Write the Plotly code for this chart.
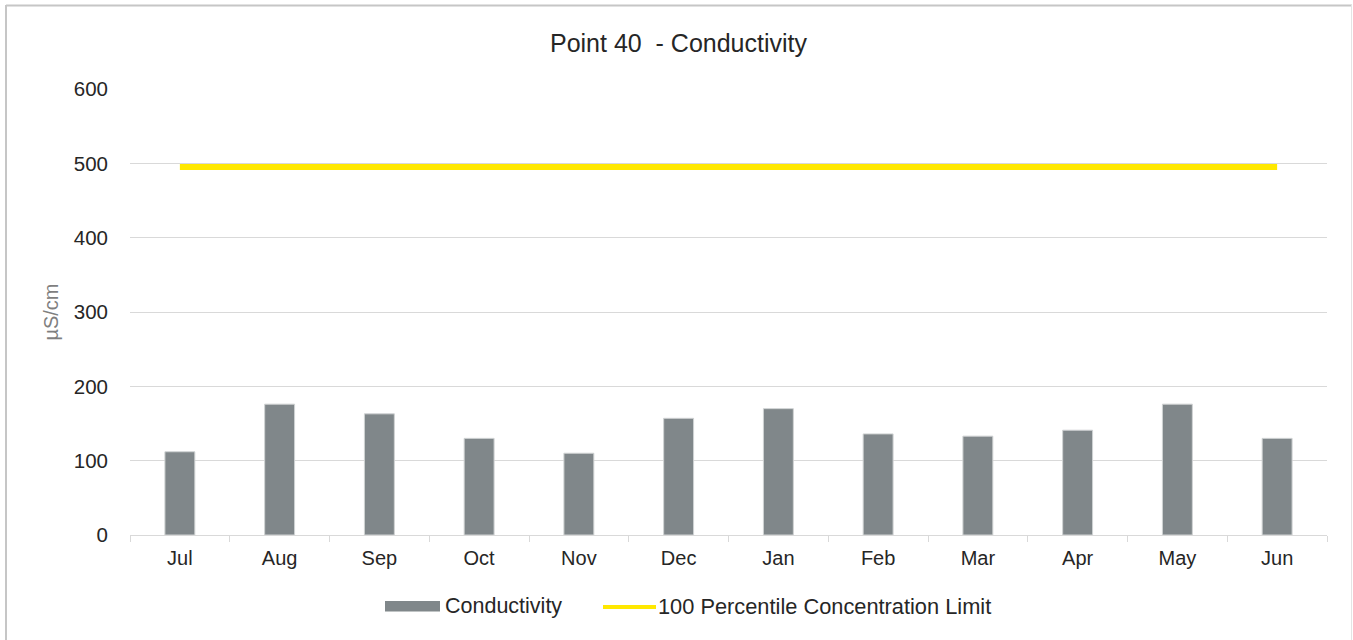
import plotly.graph_objects as go

# Monthly conductivity readings at Point 40 (µS/cm)
months = ["Jul", "Aug", "Sep", "Oct", "Nov", "Dec", "Jan", "Feb", "Mar", "Apr", "May", "Jun"]
conductivity = [112, 176, 163, 130, 110, 157, 170, 136, 133, 141, 176, 130]
limit_value = 495
limit = [limit_value] * len(months)

y_ticks = [0, 100, 200, 300, 400, 500, 600]

series_names = ["Conductivity", "100 Percentile Concentration Limit"]
bar_color = "#80878a"
limit_color = "#ffe800"

FONT = "Liberation Sans, Arial, sans-serif"
TEXT = "#262626"

W, H = 1353, 640
L, R, T, B = 130, 26, 89, 105
plot_w = W - L - R
plot_h = H - T - B


def px_x(p):
    return (p - L) / plot_w


def px_y(p):
    return (H - B - p) / plot_h


fig = go.Figure()

fig.add_trace(go.Bar(
    x=months,
    y=conductivity,
    name=series_names[0],
    marker=dict(color=bar_color, line=dict(color="#d0d3d4", width=1)),
    width=0.3,
    showlegend=False,
))

fig.add_trace(go.Scatter(
    x=months,
    y=limit,
    name=series_names[1],
    mode="lines",
    line=dict(color=limit_color, width=6),
    showlegend=False,
))

# Legend drawn below the axis: wide swatch for the bars, a line for the limit
legend_y = 606
fig.add_shape(type="rect", xref="paper", yref="paper",
              x0=px_x(385), x1=px_x(440), y0=px_y(601), y1=px_y(611.5),
              fillcolor=bar_color, line=dict(width=0))
fig.add_annotation(xref="paper", yref="paper", x=px_x(443), y=px_y(legend_y),
                   xanchor="left", yanchor="middle", showarrow=False,
                   text=series_names[0],
                   font=dict(family=FONT, size=21.5, color=TEXT))
fig.add_shape(type="line", xref="paper", yref="paper",
              x0=px_x(603), x1=px_x(656), y0=px_y(607), y1=px_y(607),
              line=dict(color=limit_color, width=4))
fig.add_annotation(xref="paper", yref="paper", x=px_x(656), y=px_y(legend_y),
                   xanchor="left", yanchor="middle", showarrow=False,
                   text=series_names[1],
                   font=dict(family=FONT, size=21.8, color=TEXT))

# Outer chart border
border = "#c6c6c6"
fig.add_shape(type="line", xref="paper", yref="paper",
              x0=px_x(6), x1=px_x(6), y0=px_y(5), y1=px_y(650),
              line=dict(color=border, width=2))
fig.add_shape(type="line", xref="paper", yref="paper",
              x0=px_x(6), x1=px_x(1352), y0=px_y(5.5), y1=px_y(5.5),
              line=dict(color=border, width=2))
fig.add_shape(type="line", xref="paper", yref="paper",
              x0=px_x(1351.5), x1=px_x(1351.5), y0=px_y(5), y1=px_y(650),
              line=dict(color="#e4e4e4", width=1))

fig.update_layout(
    width=W,
    height=H,
    margin=dict(l=L, r=R, t=T, b=B),
    paper_bgcolor="white",
    plot_bgcolor="white",
    font=dict(family=FONT, color=TEXT),
    title=dict(
        text="Point 40  - Conductivity",
        x=678.5 / W,
        xanchor="center",
        y=1 - 43 / H,
        yanchor="middle",
        font=dict(family=FONT, size=25, color=TEXT),
    ),
    showlegend=False,
    bargap=0.7,
)

fig.update_xaxes(
    type="category",
    showgrid=False,
    showline=True,
    linecolor="#d9d9d9",
    linewidth=1,
    ticks="outside",
    tickson="boundaries",
    ticklen=6,
    tickcolor="#d9d9d9",
    tickfont=dict(family=FONT, size=20, color=TEXT),
    ticklabelstandoff=5,
)

fig.update_yaxes(
    range=[0, 600],
    tickvals=y_ticks,
    showgrid=True,
    gridcolor="#d9d9d9",
    gridwidth=1,
    zeroline=False,
    showline=False,
    tickfont=dict(family=FONT, size=20.5, color=TEXT),
    ticklabelstandoff=21,
    title=dict(
        text="µS/cm",
        font=dict(family=FONT, size=20, color="#7f7f7f"),
        standoff=9,
    ),
)

fig.write_html("out.html")
